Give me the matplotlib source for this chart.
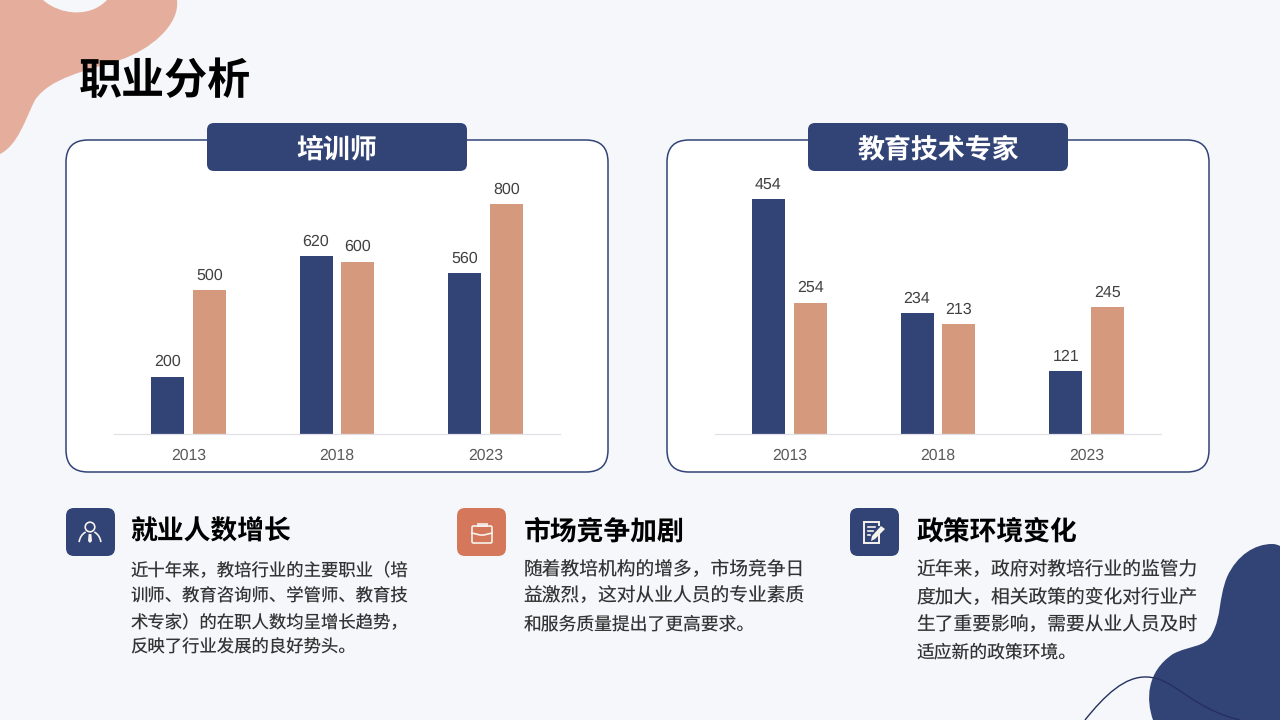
import matplotlib
matplotlib.use("Agg")
import matplotlib.pyplot as plt
from matplotlib.patches import FancyBboxPatch, PathPatch, Circle, Rectangle, Polygon, Arc
from matplotlib.path import Path

plt.rcParams["font.family"] = ["Noto Sans CJK SC", "DejaVu Sans"]
plt.rcParams["text.hinting"] = "none"

# Data
years = ["2013", "2018", "2023"]
trainer_a = [200, 620, 560]
trainer_b = [500, 600, 800]
edtech_a = [454, 234, 121]
edtech_b = [254, 213, 245]

title = "职业分析"
chart_titles = ["培训师", "教育技术专家"]
section_titles = ["就业人数增长", "市场竞争加剧", "政策环境变化"]
section_lines = [
    ["近十年来，教培行业的主要职业（培", "训师、教育咨询师、学管师、教育技",
     "术专家）的在职人数均呈增长趋势，", "反映了行业发展的良好势头。"],
    ["随着教培机构的增多，市场竞争日", "益激烈，这对从业人员的专业素质",
     "和服务质量提出了更高要求。"],
    ["近年来，政府对教培行业的监管力", "度加大，相关政策的变化对行业产",
     "生了重要影响，需要从业人员及时", "适应新的政策环境。"],
]

BG = "#F5F7FB"
NAVY = "#324376"
ORANGE = "#D59A7D"
BLOB = "#E5AE9C"
ICON_ORANGE = "#D5775A"
ICON_LINE = "#F6F3EE"
GREY = "#595959"

fig = plt.figure(figsize=(12.8, 7.2), dpi=100, facecolor=BG)

# Whole slide in pixel coordinates
bg = fig.add_axes([0, 0, 1, 1], zorder=0)
bg.set_xlim(0, 1280)
bg.set_ylim(720, 0)
bg.axis("off")


def blob(verts, color, **kw):
    codes = [Path.MOVETO] + [Path.CURVE4] * (len(verts) - 1)
    bg.add_patch(PathPatch(Path(verts, codes), facecolor=color, edgecolor="none", **kw))


# Top left shape
blob([(0, 0), (15, 0), (30, 0), (43, 0),
      (60, 15), (90, 18), (107, 0),
      (130, 0), (155, 0), (177, 0),
      (180, 25), (150, 50), (120, 60),
      (85, 71), (50, 78), (35, 100),
      (25, 120), (18, 145), (0, 154),
      (0, 100), (0, 50), (0, 0)], BLOB)

# Bottom right shape
blob([(1153, 720), (1146, 700), (1146, 672), (1173, 654),
      (1190, 645), (1205, 648), (1212, 634),
      (1222, 615), (1218, 600), (1227, 577),
      (1237, 555), (1255, 544), (1272, 544),
      (1276, 544), (1278, 545), (1280, 546),
      (1280, 600), (1280, 660), (1280, 720),
      (1240, 720), (1195, 720), (1153, 720)], NAVY)

# Thin curve over it
line = Path([(1085, 720), (1105, 695), (1125, 676), (1147, 677),
             (1175, 678), (1190, 708), (1240, 720)],
            [Path.MOVETO] + [Path.CURVE4] * 6)
bg.add_patch(PathPatch(line, facecolor="none", edgecolor="#26305F", lw=1.0))

bg.text(79, 81, title, fontsize=31, fontweight="black", color="black", ha="left", va="center")


def rounded(x0, y0, x1, y1, r, **kw):
    p = FancyBboxPatch((x0 + r, y0 + r), x1 - x0 - 2 * r, y1 - y0 - 2 * r,
                       boxstyle=f"round,pad={r},rounding_size={r}", **kw)
    bg.add_patch(p)


def bar_panel(left, a, b, name):
    # card and header
    rounded(left, 140, left + 542, 472, 22, facecolor="white", edgecolor=NAVY, lw=1.1)
    rounded(left + 141, 123, left + 401, 171, 7, facecolor=NAVY, edgecolor="none")
    bg.text(left + 271, 150, name, fontsize=19.4, fontweight="bold", color="white",
            ha="center", va="center")

    # bars
    ax = fig.add_axes([(left + 48) / 1280, (720 - 434) / 720, 446 / 1280, 264 / 720], zorder=2)
    ax.patch.set_alpha(0)
    xs = range(len(years))
    w = 33 / 148.7
    off = 21 / 148.7
    r1 = ax.bar([x - off for x in xs], a, width=w, color=NAVY)
    r2 = ax.bar([x + off for x in xs], b, width=w, color=ORANGE)
    for r in (r1, r2):
        ax.bar_label(r, padding=5, fontsize=11.5, color="#404040", family="Liberation Sans")
    ax.set_xlim(-0.5, 2.5)
    ax.set_xticks(list(xs))
    ax.set_xticklabels(years, fontsize=11.3, color=GREY, family="Liberation Sans")
    ax.tick_params(axis="x", length=0, pad=10)
    ax.set_yticks([])
    for s in ("top", "left", "right"):
        ax.spines[s].set_visible(False)
    ax.spines["bottom"].set_color("#E0E0E6")
    ax.spines["bottom"].set_linewidth(0.9)
    return ax


ax1 = bar_panel(66, trainer_a, trainer_b, chart_titles[0])
ax1.set_ylim(0, 264 / 0.2875)
ax2 = bar_panel(667, edtech_a, edtech_b, chart_titles[1])
ax2.set_ylim(0, 264 / 0.5176)

# Sections below the charts
section_x = [130.5, 523.5, 916.5]
line_ys = [[570, 596, 622, 647], [570, 597, 624], [570, 598, 625, 652]]
line_sizes = [[12.5, 12.5, 12.5, 12.5], [13.5, 13.5, 12.8], [13.5, 13.5, 13.5, 12.8]]
for x, head, lines, ys, sizes in zip(section_x, section_titles, section_lines, line_ys, line_sizes):
    bg.text(x, 532, head, fontsize=19.3, fontweight="black", color="black", ha="left", va="center")
    for y, txt, fs in zip(ys, lines, sizes):
        bg.text(x, y, txt, fontsize=fs, color="#333333", ha="left", va="center")

# Icon tiles
rounded(66, 508, 115, 556, 8, facecolor=NAVY, edgecolor="none")
rounded(457, 508, 506, 556, 8, facecolor=ICON_ORANGE, edgecolor="none")
rounded(850, 508, 899, 556, 8, facecolor=NAVY, edgecolor="none")

# person
bg.add_patch(Circle((90, 527), 4.8, facecolor="none", edgecolor=ICON_LINE, lw=1.2))
bg.add_patch(Arc((90, 544), 22, 26, theta1=190, theta2=250, color=ICON_LINE, lw=1.2))
bg.add_patch(Arc((90, 544), 22, 26, theta1=290, theta2=350, color=ICON_LINE, lw=1.2))
bg.add_patch(Polygon([(88.6, 534), (91.4, 534), (92, 541), (90, 543), (88, 541)],
                     facecolor=ICON_LINE, edgecolor="none"))

# briefcase
rounded(472, 526, 492, 543, 1.5, facecolor="none", edgecolor=ICON_LINE, lw=1.2)
bg.add_patch(Rectangle((477.5, 523.5), 9, 2.5, facecolor="none", edgecolor=ICON_LINE, lw=1.2))
bg.plot([472, 480, 484, 492], [533, 535, 535, 533], color=ICON_LINE, lw=1.2)

# document and pencil
bg.add_patch(Polygon([(879, 534), (879, 543), (864, 543), (864, 522), (879, 522), (879, 526)],
                     closed=False, facecolor="none", edgecolor=ICON_LINE, lw=1.4))
for y, x1 in [(527, 875), (531, 873), (535, 870)]:
    bg.plot([867.5, x1], [y, y], color=ICON_LINE, lw=1.2)
bg.add_patch(Polygon([(881, 526), (885, 529), (875, 539), (871, 541), (872, 536)],
                     facecolor=ICON_LINE, edgecolor="none"))

fig.savefig("out.png", dpi=100, facecolor=BG)
